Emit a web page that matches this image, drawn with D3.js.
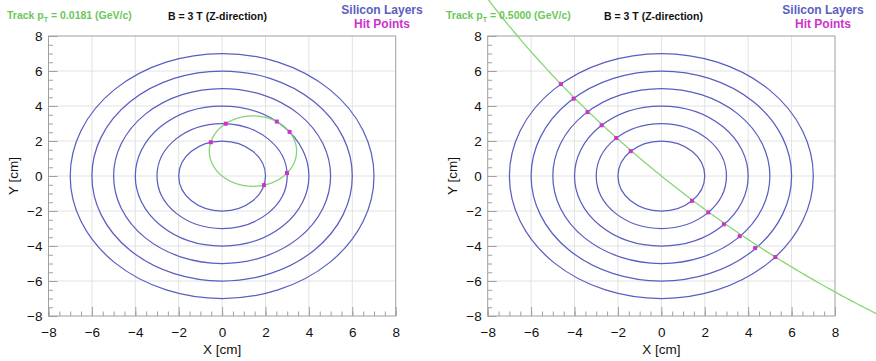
<!DOCTYPE html>
<html>
<head>
<meta charset="utf-8">
<script src="https://cdn.jsdelivr.net/npm/d3@7"></script>
<style>
  html, body { margin: 0; padding: 0; background: #fff; }
  svg { display: block; font-family: "Liberation Sans", Arial, Helvetica, sans-serif; }
</style>
</head>
<body>
<svg id="chart" width="876" height="361"></svg>
<script>
// Detector geometry and track parameters
const layerRadii = [2, 3, 4, 5, 6, 7];           // silicon layer radii [cm]
const fieldTesla = 3;                            // solenoid field along Z
const trackPt = [0.0181, 0.5000];                // transverse momentum [GeV/c] per panel
const trackPhiDeg = [135, 135];                  // initial direction at the origin [deg]

// Hit points on the layers (cm)
const hitsLowX = [-0.52, 0.17, 2.52, 3.11, 2.99, 1.93];
const hitsLowY = [1.93, 2.99, 3.11, 2.52, 0.17, -0.52];
const hitsHighX = [-1.41, -2.08, -2.75, -3.40, -4.04, -4.63, 1.41, 2.16, 2.88, 3.61, 4.32, 5.25];
const hitsHighY = [1.42, 2.17, 2.90, 3.65, 4.42, 5.25, -1.42, -2.08, -2.76, -3.44, -4.12, -4.63];

const axisTicks = [-8, -6, -4, -2, 0, 2, 4, 6, 8];
const axisDomain = [-8, 8];

const colors = {
  layer: "#5a5ec2",
  track: "#86d676",
  hit: "#cc33cc",
  title: "#6ac85a",
  text: "#111",
  frame: "#a0a0a0",
  grid: "#e2e2e2"
};

const svg = d3.select("#chart");

const panels = [
  { left: 48.5, right: 395.7, pad: [0, 438], pt: trackPt[0], phi: trackPhiDeg[0],
    hx: hitsLowX, hy: hitsLowY, titleX: 7, bX: 168, legX: 382 },
  { left: 487.7, right: 835, pad: [438, 876], pt: trackPt[1], phi: trackPhiDeg[1],
    hx: hitsHighX, hy: hitsHighY, titleX: 446, bX: 604, legX: 823 }
];
const frameTop = 36, frameBottom = 316;

panels.forEach((p, i) => {
  const x = d3.scaleLinear().domain(axisDomain).range([p.left, p.right]);
  const y = d3.scaleLinear().domain(axisDomain).range([frameBottom, frameTop]);
  const g = svg.append("g");

  const clipId = "pad" + i;
  svg.append("clipPath").attr("id", clipId)
    .append("rect").attr("x", p.pad[0]).attr("y", 0)
    .attr("width", p.pad[1] - p.pad[0]).attr("height", 361);

  // grid
  const inner = axisTicks.slice(1, -1);
  g.selectAll(".gx").data(inner).join("line")
    .attr("x1", d => x(d)).attr("x2", d => x(d))
    .attr("y1", frameTop).attr("y2", frameBottom)
    .attr("stroke", colors.grid).attr("stroke-width", 1);
  g.selectAll(".gy").data(inner).join("line")
    .attr("y1", d => y(d)).attr("y2", d => y(d))
    .attr("x1", p.left).attr("x2", p.right)
    .attr("stroke", colors.grid).attr("stroke-width", 1);

  // frame
  g.append("rect").attr("x", p.left).attr("y", frameTop)
    .attr("width", p.right - p.left).attr("height", frameBottom - frameTop)
    .attr("fill", "none").attr("stroke", colors.frame).attr("stroke-width", 1);

  // ticks (inside the frame), minor then major
  const minor = d3.range(-8, 8.001, 0.5);
  const fmt = d => String(d).replace("-", "\u2212");
  const bx = g.append("g").attr("transform", `translate(0,${frameBottom})`);
  bx.call(d3.axisBottom(x).tickValues(minor).tickSize(-4.5).tickFormat(""));
  const bxMajor = g.append("g").attr("transform", `translate(0,${frameBottom})`);
  bxMajor.call(d3.axisBottom(x).tickValues(axisTicks).tickSize(-9).tickPadding(11).tickFormat(fmt));
  const ly = g.append("g").attr("transform", `translate(${p.left},0)`);
  ly.call(d3.axisLeft(y).tickValues(minor).tickSize(-4.5).tickFormat(""));
  const lyMajor = g.append("g").attr("transform", `translate(${p.left},0)`);
  lyMajor.call(d3.axisLeft(y).tickValues(axisTicks).tickSize(-9).tickPadding(6).tickFormat(fmt));
  [bx, bxMajor, ly, lyMajor].forEach(a => {
    a.selectAll(".domain").remove();
    a.selectAll(".tick line").attr("stroke", colors.frame);
    a.selectAll(".tick text").attr("font-size", 13.5).attr("fill", colors.text)
      .attr("font-family", "Liberation Sans, Arial, sans-serif");
  });

  // axis titles
  g.append("text").attr("x", x(0)).attr("y", 354).attr("text-anchor", "middle")
    .attr("font-size", 13.5).attr("fill", colors.text).text("X [cm]");
  g.append("text").attr("transform", `translate(${p.left - 31},${y(0)}) rotate(-90)`)
    .attr("text-anchor", "middle").attr("font-size", 13.5).attr("fill", colors.text)
    .text("Y [cm]");

  // silicon layers
  g.selectAll(".layer").data(layerRadii).join("ellipse")
    .attr("cx", x(0)).attr("cy", y(0))
    .attr("rx", r => x(r) - x(0)).attr("ry", r => y(0) - y(r))
    .attr("fill", "none").attr("stroke", colors.layer).attr("stroke-width", 1.25);

  // helix projection: circle through the origin, radius R = pT / (0.3 B) [m]
  const R = p.pt / (0.3 * fieldTesla) * 100;
  const phiC = (p.phi - 90) * Math.PI / 180;
  const cx = R * Math.cos(phiC), cy = R * Math.sin(phiC);
  const n = 2000;
  const pts = d3.range(n + 1).map(k => {
    const a = 2 * Math.PI * k / n;
    return [cx + R * Math.cos(a), cy + R * Math.sin(a)];
  });
  svg.append("path").attr("clip-path", `url(#${clipId})`)
    .datum(pts)
    .attr("d", d3.line().x(d => x(d[0])).y(d => y(d[1])))
    .attr("fill", "none").attr("stroke", colors.track).attr("stroke-width", 1.3);

  // hits
  const hits = p.hx.map((v, k) => [v, p.hy[k]]);
  svg.append("g").selectAll("rect").data(hits).join("rect")
    .attr("x", d => x(d[0]) - 2).attr("y", d => y(d[1]) - 2)
    .attr("width", 4).attr("height", 4).attr("fill", colors.hit);

  // labels
  const t = svg.append("text").attr("x", p.titleX).attr("y", 19)
    .attr("font-size", 10.5).attr("font-weight", "bold").attr("fill", colors.title);
  t.append("tspan").text("Track p");
  t.append("tspan").attr("dy", 3).attr("font-size", 7).text("T");
  t.append("tspan").attr("dy", -3).text(` = ${p.pt.toFixed(4)} (GeV/c)`);

  svg.append("text").attr("x", p.bX).attr("y", 20)
    .attr("font-size", 10.5).attr("font-weight", "bold").attr("fill", colors.text)
    .text(`B = ${fieldTesla} T (Z-direction)`);

  svg.append("text").attr("x", p.legX).attr("y", 14).attr("text-anchor", "middle")
    .attr("font-size", 12).attr("font-weight", "bold").attr("fill", colors.layer)
    .text("Silicon Layers");
  svg.append("text").attr("x", p.legX).attr("y", 28).attr("text-anchor", "middle")
    .attr("font-size", 12).attr("font-weight", "bold").attr("fill", colors.hit)
    .text("Hit Points");
});
</script>
</body>
</html>
